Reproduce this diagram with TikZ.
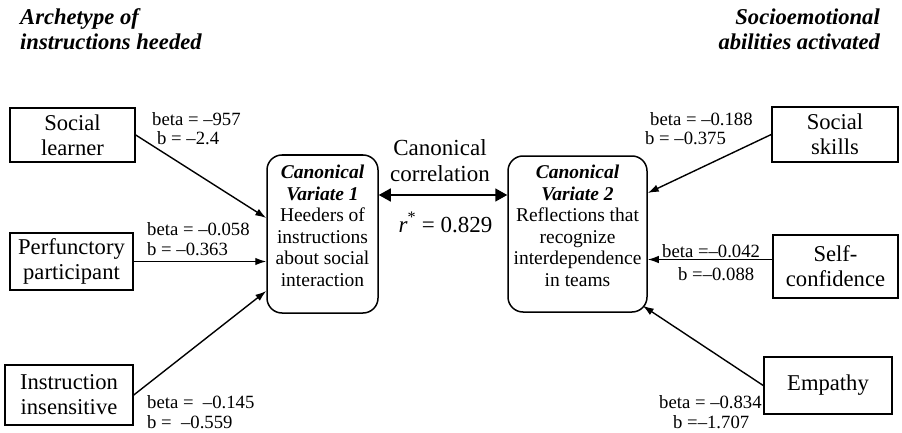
\documentclass[tikz,border=0pt]{standalone}
\usepackage{fontspec}
\setmainfont{Liberation Serif}
\usetikzlibrary{arrows.meta,calc}
\begin{document}
\begin{tikzpicture}[x=1pt,y=-1pt,
  box/.style={draw, line width=1.5pt, inner sep=0, align=center, font=\fontsize{22.6}{25}\selectfont},
  cvbox/.style={draw, line width=1.5pt, rounded corners=15pt, inner sep=0},
  cvtext/.style={align=center, font=\fontsize{19.5}{21.5}\selectfont, inner sep=0},
  lab/.style={font=\fontsize{18.7}{20}\selectfont, inner sep=0, anchor=base west},
  big/.style={font=\fontsize{23}{25}\selectfont, inner sep=0, anchor=base},
  head/.style={font=\fontsize{22.6}{25}\selectfont\bfseries\itshape, inner sep=0},
  arr/.style={line width=1.4pt, -{Latex[length=11pt,width=7.5pt]}},
  dbl/.style={line width=1.6pt, {Triangle[length=12pt,width=13pt]}-{Triangle[length=12pt,width=13pt]}}
]
\useasboundingbox (0,0) rectangle (902,433);

% headers
\node[head, anchor=base west] (h1a) at (20,25) {Archetype of};
\node[head, anchor=base west] (h1b) at (20,50) {instructions heeded};
\node[head, anchor=base east] (h2a) at (880,25) {Socioemotional};
\node[head, anchor=base east] (h2b) at (880,50) {abilities activated};

% left boxes
\node[box, minimum width=125pt, minimum height=54pt] (sl) at (72.5,135) {Social\\learner};
\node[box, minimum width=123pt, minimum height=57pt] (pp) at (71.5,261.5) {Perfunctory\\participant};
\node[box, minimum width=128pt, minimum height=60pt] (ii) at (69,395) {Instruction\\insensitive};

% right boxes
\node[box, minimum width=126pt, minimum height=55pt] (ss) at (835,134.5) {Social\\skills};
\node[box, minimum width=125pt, minimum height=63pt] (sc) at (835.5,266.5) {Self-\\confidence};
\node[box, minimum width=128pt, minimum height=57pt] (em) at (828,385.5) {Empathy};

% canonical variates
\node[cvbox, minimum width=111pt, minimum height=158pt] (cv1) at (322.5,234) {};
\node[cvtext] (cv1t) at (322.5,226) {\textbf{\textit{Canonical}}\\\textbf{\textit{Variate 1}}\\Heeders of\\instructions\\about social\\interaction};
\node[cvbox, minimum width=139pt, minimum height=156pt] (cv2) at (577.5,234) {};
\node[cvtext] (cv2t) at (577.5,226) {\textbf{\textit{Canonical}}\\\textbf{\textit{Variate 2}}\\Reflections that\\recognize\\interdependence\\in teams};

% canonical correlation
\node[big] (cc1) at (440,155) {Canonical};
\node[big] (cc2) at (440,182) {correlation};
\node[big] (rr) at (445.5,232) {\textit{r}\textsuperscript{*} = 0.829};

% connectors
\draw[arr] (sl.east) -- ([yshift=16pt]cv1.west);
\draw[arr] (pp.east) -- (pp.east -| cv1.west);
\draw[arr] (ii.east) -- ([yshift=-57pt]cv1.west);
\draw[dbl] ([yshift=39pt]cv1.east) -- ([yshift=39pt]cv2.west);
\draw[arr] (ss.west) -- ([yshift=41pt]cv2.east);
\draw[arr] ([yshift=7pt]sc.west) -- ([yshift=7pt]sc.west -| cv2.east);
\draw[arr] (em.west) -- ([xshift=-5pt,yshift=7pt]cv2.south east);

% labels
\node[lab] (l1a) at (152,126) {beta = –957};
\node[lab] (l1b) at (157,145) {b = –2.4};
\node[lab] (l2a) at (147,235) {beta = –0.058};
\node[lab] (l2b) at (147,255) {b = –0.363};
\node[lab] (l3a) at (147,408) {beta =\ \ –0.145};
\node[lab] (l3b) at (147,428) {b =\ \ –0.559};
\node[lab] (r1a) at (650,125) {beta = –0.188};
\node[lab] (r1b) at (645,145) {b = –0.375};
\node[lab] (r2a) at (662,257) {beta =–0.042};
\node[lab] (r2b) at (678,280) {b =–0.088};
\node[lab] (r3a) at (659,408) {beta = –0.834};
\node[lab] (r3b) at (673,428) {b =–1.707};
\end{tikzpicture}
\end{document}
